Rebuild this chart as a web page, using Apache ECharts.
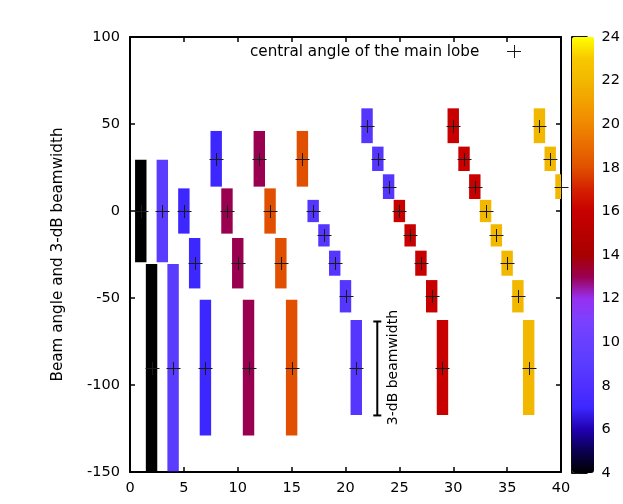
<!DOCTYPE html>
<html>
<head>
<meta charset="utf-8">
<script src="https://cdn.jsdelivr.net/npm/echarts@6/dist/echarts.min.js"></script>
<style>
html,body{margin:0;padding:0;background:#fff;}
#chart{width:623px;height:504px;}
</style>
</head>
<body>
<div id="chart"></div>
<script>
// ---- data ----
const xIndex = [1,2,3,4,5,6,7,8,9,10,11,12,13,14,15,16,17,18,19,20,21,22,23,24,25,26,27,28,29,30,31,32,33,34,35,36,37,38,39,40];
const centralAngle = [0,-90, 0,-90, 0,-30,-90,30, 0,-30,-90,30, 0,-30,-90,30,
  0,-14,-30,-49,-90,49,30,14, 0,-14,-30,-49,-90,49,30,14, 0,-14,-30,-49,-90,49,30,14];
const halfBeamwidth = [29.5,59.5, 29.5,59.5, 13,14.5,39,16, 13,14.5,39,16, 13,14.5,39,16,
  6.4,6.4,7.2,9.3,27.3,10,7,7.1, 6.4,6.4,7.2,9.3,27.3,10,7,7.1, 6.4,6.4,7.2,9.3,27.3,10,7,7.1];
const colorValue = [4,4, 9,9, 7,7,7,7, 13,13,13,13, 18,18,18,18,
  8.5,8.5,8.5,8.5,8.5,8.5,8.5,8.5, 16,16,16,16,16,16,16,16, 22,22,22,22,22,22,22,22];
const paletteColors = ['#000000','#0a0050','#2000b0','#3c28ff','#5030ff','#5a3cff','#6840ff','#7c40ff',
  '#9830f0','#9a0050','#a80000','#b80000','#c80000','#d42000','#e05000','#e86c00','#f08800',
  '#f2a000','#f2b800','#f8c800','#ffff00'];
const beamwidthNote = [[22.95, -63.5, -117.5, 24.45, -90]];
const noteText = '3-dB beamwidth';
const legendText = 'central angle of the main lobe';
const yName = 'Beam angle and 3-dB beamwidth';

const barData = xIndex.map((x, i) => [x, centralAngle[i], halfBeamwidth[i], colorValue[i]]);
const markData = xIndex.map((x, i) => [x, centralAngle[i]]);

const FONT = '"DejaVu Sans", sans-serif';
const chart = echarts.init(document.getElementById('chart'));

function renderBar(params, api) {
  const x = api.value(0), c = api.value(1), hw = api.value(2);
  const p1 = api.coord([x - 0.53, c + hw]);
  const p2 = api.coord([x + 0.53, c - hw]);
  const cs = params.coordSys;
  const rect = echarts.graphic.clipRectByRect(
    {x: p1[0], y: p1[1], width: p2[0] - p1[0], height: p2[1] - p1[1]},
    {x: cs.x, y: cs.y, width: cs.width, height: cs.height});
  return rect && {type: 'rect', shape: rect, style: {fill: api.visual('color')}};
}
function renderMark(params, api) {
  const p = api.coord([api.value(0), api.value(1)]);
  const x = Math.round(p[0]) + 0.5, y = Math.round(p[1]) + 0.5;
  return {type: 'group', children: [
    {type: 'line', shape: {x1: x - 7, y1: y, x2: x + 7, y2: y}, style: {stroke: '#1a1a1a', lineWidth: 1}},
    {type: 'line', shape: {x1: x, y1: y - 6.5, x2: x, y2: y + 6.5}, style: {stroke: '#1a1a1a', lineWidth: 1}}
  ]};
}
function renderNote(params, api) {
  const top = api.coord([api.value(0), api.value(1)]);
  const bot = api.coord([api.value(0), api.value(2)]);
  const lab = api.coord([api.value(3), api.value(4)]);
  const st = {stroke: '#000', lineWidth: 2};
  return {type: 'group', children: [
    {type: 'line', shape: {x1: top[0], y1: top[1], x2: bot[0], y2: bot[1]}, style: st},
    {type: 'line', shape: {x1: top[0] - 4, y1: top[1], x2: top[0] + 4, y2: top[1]}, style: st},
    {type: 'line', shape: {x1: bot[0] - 4, y1: bot[1], x2: bot[0] + 4, y2: bot[1]}, style: st},
    {type: 'text', x: lab[0], y: lab[1], rotation: Math.PI / 2,
      style: {text: noteText, font: '14px ' + FONT, fill: '#000', align: 'center', verticalAlign: 'middle'}}
  ]};
}

function axisCommon() {
  return {
    axisLine: {show: true, onZero: false, lineStyle: {color: '#000', width: 2}},
    axisTick: {show: true, inside: true, length: 5, lineStyle: {color: '#000', width: 1.5}},
    splitLine: {show: false}
  };
}

chart.setOption({
  animation: false,
  backgroundColor: '#fff',
  grid: [
    {left: 130, top: 37, right: 62, bottom: 32},
    {left: 572, top: 37, width: 22, height: 436, show: true, borderColor: '#000', borderWidth: 1.5, backgroundColor: 'transparent'}
  ],
  xAxis: [
    Object.assign({type: 'value', gridIndex: 0, min: 0, max: 40, interval: 5, position: 'bottom',
      axisLabel: {color: '#000', fontFamily: FONT, fontSize: 14.5, margin: 9}}, axisCommon()),
    Object.assign({type: 'value', gridIndex: 0, min: 0, max: 40, interval: 5, position: 'top',
      axisLabel: {show: false}}, axisCommon()),
    {type: 'value', gridIndex: 1, min: 0, max: 1, show: false}
  ],
  yAxis: [
    Object.assign({type: 'value', gridIndex: 0, min: -150, max: 100, interval: 50, position: 'left',
      name: yName, nameLocation: 'middle', nameRotate: 90, nameGap: 64,
      nameTextStyle: {color: '#000', fontFamily: FONT, fontSize: 15.2},
      axisLabel: {color: '#000', fontFamily: FONT, fontSize: 14.5, margin: 10}}, axisCommon()),
    Object.assign({type: 'value', gridIndex: 0, min: -150, max: 100, interval: 50, position: 'right',
      axisLabel: {show: false}}, axisCommon()),
    {type: 'value', gridIndex: 1, min: 4, max: 24, interval: 2, position: 'right',
      axisLine: {show: true, onZero: false, lineStyle: {color: '#000', width: 1.5}},
      axisTick: {show: true, inside: true, length: 9, lineStyle: {color: '#000', width: 1.5}},
      splitLine: {show: false},
      axisLabel: {color: '#000', fontFamily: FONT, fontSize: 14.5, margin: 15}},
    {type: 'value', gridIndex: 1, min: 4, max: 24, interval: 2, position: 'left',
      axisLine: {show: true, onZero: false, lineStyle: {color: '#000', width: 1.5}},
      axisTick: {show: true, inside: true, length: 5, lineStyle: {color: '#000', width: 1.5}},
      splitLine: {show: false}, axisLabel: {show: false}}
  ],
  visualMap: {
    type: 'continuous', min: 4, max: 24, dimension: 3, seriesIndex: 0,
    inRange: {color: paletteColors},
    orient: 'vertical', left: 572, top: 37, itemWidth: 22, itemHeight: 436,
    padding: 0, calculable: false, hoverLink: false, showLabel: false, z: 1
  },
  graphic: [
    {type: 'text', left: 250, top: 45, z: 10,
      style: {text: legendText, font: '15.2px ' + FONT, fill: '#000'}},
    {type: 'line', shape: {x1: 507, y1: 51.5, x2: 521, y2: 51.5}, style: {stroke: '#1a1a1a', lineWidth: 1}, z: 10},
    {type: 'line', shape: {x1: 514.5, y1: 45, x2: 514.5, y2: 58}, style: {stroke: '#1a1a1a', lineWidth: 1}, z: 10}
  ],
  series: [
    {type: 'custom', name: 'beamwidth', xAxisIndex: 0, yAxisIndex: 0, renderItem: renderBar,
      data: barData, encode: {x: 0, y: 1}, z: 2, silent: true},
    {type: 'custom', name: legendText, xAxisIndex: 0, yAxisIndex: 0, renderItem: renderMark,
      data: markData, encode: {x: 0, y: 1}, z: 3, clip: false, silent: true},
    {type: 'custom', name: 'note', xAxisIndex: 0, yAxisIndex: 0, renderItem: renderNote,
      data: beamwidthNote, encode: {x: 0, y: 1}, z: 3, silent: true}
  ]
});
</script>
</body>
</html>
